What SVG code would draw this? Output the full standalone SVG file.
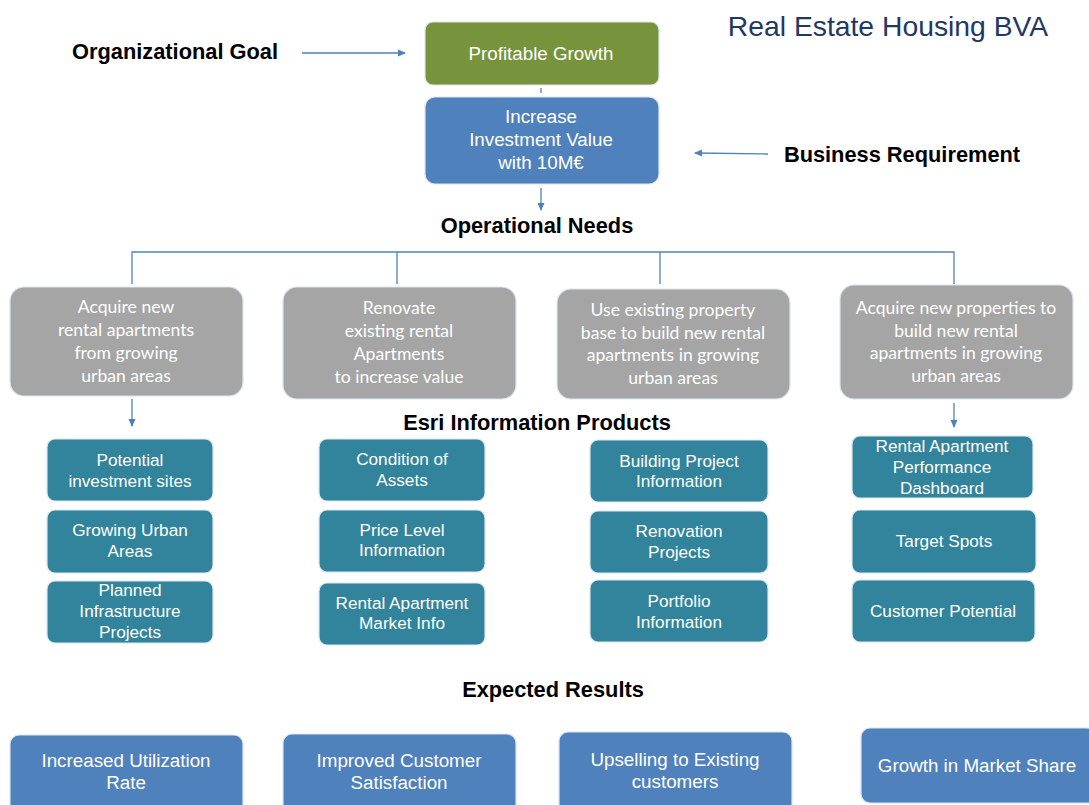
<svg xmlns="http://www.w3.org/2000/svg" width="1089" height="805" viewBox="0 0 1089 805">
<defs>
<marker id="ah" markerWidth="8" markerHeight="8" refX="7" refY="4" orient="auto" markerUnits="userSpaceOnUse">
<path d="M0,0.5 L8,4 L0,7.5 Z" fill="#4f81bd"/>
</marker>
<style>
.lbl{font-family:"Liberation Sans",Arial,sans-serif;font-weight:bold;font-size:21.8px;fill:#000;text-anchor:middle}
.box{stroke:#dbe5f1;stroke-width:1.2}
.wt{font-family:"Liberation Sans",Arial,sans-serif;font-size:17.2px;fill:#fff;text-anchor:middle}
.bt{font-family:"Liberation Sans",Arial,sans-serif;font-size:18.8px;fill:#fff;text-anchor:middle}
.ct{font-family:Lato,"Noto Sans",sans-serif;font-size:17.6px;fill:#fff;text-anchor:middle}
.green{fill:#77933c}
.blue{fill:#4f81bd}
.gray{fill:#a5a5a5}
.teal{fill:#31849b}
.conn{stroke:#4f81bd;stroke-width:1.3;fill:none}
</style>
</defs>
<rect width="1089" height="805" fill="#fff"/>
<text x="888" y="36" font-family="Liberation Sans,Arial,sans-serif" font-size="28.3" fill="#1f3864" text-anchor="middle">Real Estate Housing BVA</text>
<text class="lbl" x="175" y="59">Organizational Goal</text>
<text class="lbl" x="902" y="162">Business Requirement</text>
<text class="lbl" x="537" y="233">Operational Needs</text>
<text class="lbl" x="537" y="430">Esri Information Products</text>
<text class="lbl" x="553" y="697">Expected Results</text>

<g id="connectors">
<line class="conn" x1="302" y1="53" x2="405" y2="53" marker-end="url(#ah)"/>
<line class="conn" x1="768" y1="154" x2="695" y2="153" marker-end="url(#ah)"/>
<line class="conn" x1="541" y1="88" x2="541" y2="93"/>
<line class="conn" x1="541" y1="188" x2="541" y2="210" marker-end="url(#ah)"/>
<polyline class="conn" points="132,284 132,252 954,252 954,284"/>
<line class="conn" x1="397" y1="252" x2="397" y2="284"/>
<line class="conn" x1="660" y1="252" x2="660" y2="284"/>
<line class="conn" x1="132" y1="399" x2="132" y2="426" marker-end="url(#ah)"/>
<line class="conn" x1="954" y1="403" x2="954" y2="427" marker-end="url(#ah)"/>
</g>

<g id="goal"><rect class="box green" x="425" y="22" width="234" height="63" rx="8"/><text class="bt" x="541" y="60">Profitable Growth</text></g>
<g id="req"><rect class="box blue" x="425" y="97" width="234" height="87" rx="10"/><text class="bt" x="541" y="123">Increase</text><text class="bt" x="541" y="146">Investment Value</text><text class="bt" x="541" y="169">with 10M€</text></g>

<g id="need1"><rect class="box gray" x="10" y="287" width="233" height="109" rx="14"/><text class="ct" x="126" y="313">Acquire new</text><text class="ct" x="126" y="336">rental apartments</text><text class="ct" x="126" y="359">from growing</text><text class="ct" x="126" y="382">urban areas</text></g>
<g id="need2"><rect class="box gray" x="283" y="287" width="233" height="112" rx="14"/><text class="ct" x="399" y="314">Renovate</text><text class="ct" x="399" y="337">existing rental</text><text class="ct" x="399" y="360">Apartments</text><text class="ct" x="399" y="383">to increase value</text></g>
<g id="need3"><rect class="box gray" x="557" y="289" width="233" height="110" rx="14"/><text class="ct" x="673" y="316">Use existing property</text><text class="ct" x="673" y="339">base to build new rental</text><text class="ct" x="673" y="361">apartments in growing</text><text class="ct" x="673" y="384">urban areas</text></g>
<g id="need4"><rect class="box gray" x="840" y="285" width="233" height="114" rx="14"/><text class="ct" x="956" y="314">Acquire new properties to</text><text class="ct" x="956" y="337">build new rental</text><text class="ct" x="956" y="359">apartments in growing</text><text class="ct" x="956" y="382">urban areas</text></g>

<g id="p11"><rect class="box teal" x="47" y="439" width="166" height="62" rx="8"/><text class="wt" x="130" y="466">Potential</text><text class="wt" x="130" y="487">investment sites</text></g>
<g id="p12"><rect class="box teal" x="47" y="510" width="166" height="63" rx="8"/><text class="wt" x="130" y="536">Growing Urban</text><text class="wt" x="130" y="557">Areas</text></g>
<g id="p13"><rect class="box teal" x="47" y="581" width="166" height="62" rx="8"/><text class="wt" x="130" y="596">Planned</text><text class="wt" x="130" y="617">Infrastructure</text><text class="wt" x="130" y="638">Projects</text></g>

<g id="p21"><rect class="box teal" x="319" y="439" width="166" height="62" rx="8"/><text class="wt" x="402" y="465">Condition of</text><text class="wt" x="402" y="486">Assets</text></g>
<g id="p22"><rect class="box teal" x="319" y="510" width="166" height="62" rx="8"/><text class="wt" x="402" y="536">Price Level</text><text class="wt" x="402" y="556">Information</text></g>
<g id="p23"><rect class="box teal" x="319" y="583" width="166" height="62" rx="8"/><text class="wt" x="402" y="609">Rental Apartment</text><text class="wt" x="402" y="629">Market Info</text></g>

<g id="p31"><rect class="box teal" x="590" y="440" width="178" height="62" rx="8"/><text class="wt" x="679" y="467">Building Project</text><text class="wt" x="679" y="487">Information</text></g>
<g id="p32"><rect class="box teal" x="590" y="511" width="178" height="62" rx="8"/><text class="wt" x="679" y="537">Renovation</text><text class="wt" x="679" y="558">Projects</text></g>
<g id="p33"><rect class="box teal" x="590" y="580" width="178" height="62" rx="8"/><text class="wt" x="679" y="607">Portfolio</text><text class="wt" x="679" y="628">Information</text></g>

<g id="p41"><rect class="box teal" x="852" y="436" width="181" height="62" rx="8"/><text class="wt" x="942" y="452">Rental Apartment</text><text class="wt" x="942" y="473">Performance</text><text class="wt" x="942" y="494">Dashboard</text></g>
<g id="p42"><rect class="box teal" x="852" y="510" width="184" height="63" rx="8"/><text class="wt" x="944" y="547">Target Spots</text></g>
<g id="p43"><rect class="box teal" x="852" y="580" width="183" height="62" rx="8"/><text class="wt" x="943" y="617">Customer Potential</text></g>

<g id="r1"><rect class="box blue" x="10" y="735" width="233" height="80" rx="9"/><text class="bt" x="126" y="767">Increased Utilization</text><text class="bt" x="126" y="789">Rate</text></g>
<g id="r2"><rect class="box blue" x="283" y="734" width="233" height="81" rx="9"/><text class="bt" x="399" y="767">Improved Customer</text><text class="bt" x="399" y="789">Satisfaction</text></g>
<g id="r3"><rect class="box blue" x="559" y="732" width="233" height="83" rx="9"/><text class="bt" x="675" y="766">Upselling to Existing</text><text class="bt" x="675" y="788">customers</text></g>
<g id="r4"><rect class="box blue" x="861" y="728" width="235" height="75" rx="9"/><text class="bt" x="977" y="772">Growth in Market Share</text></g>
</svg>
